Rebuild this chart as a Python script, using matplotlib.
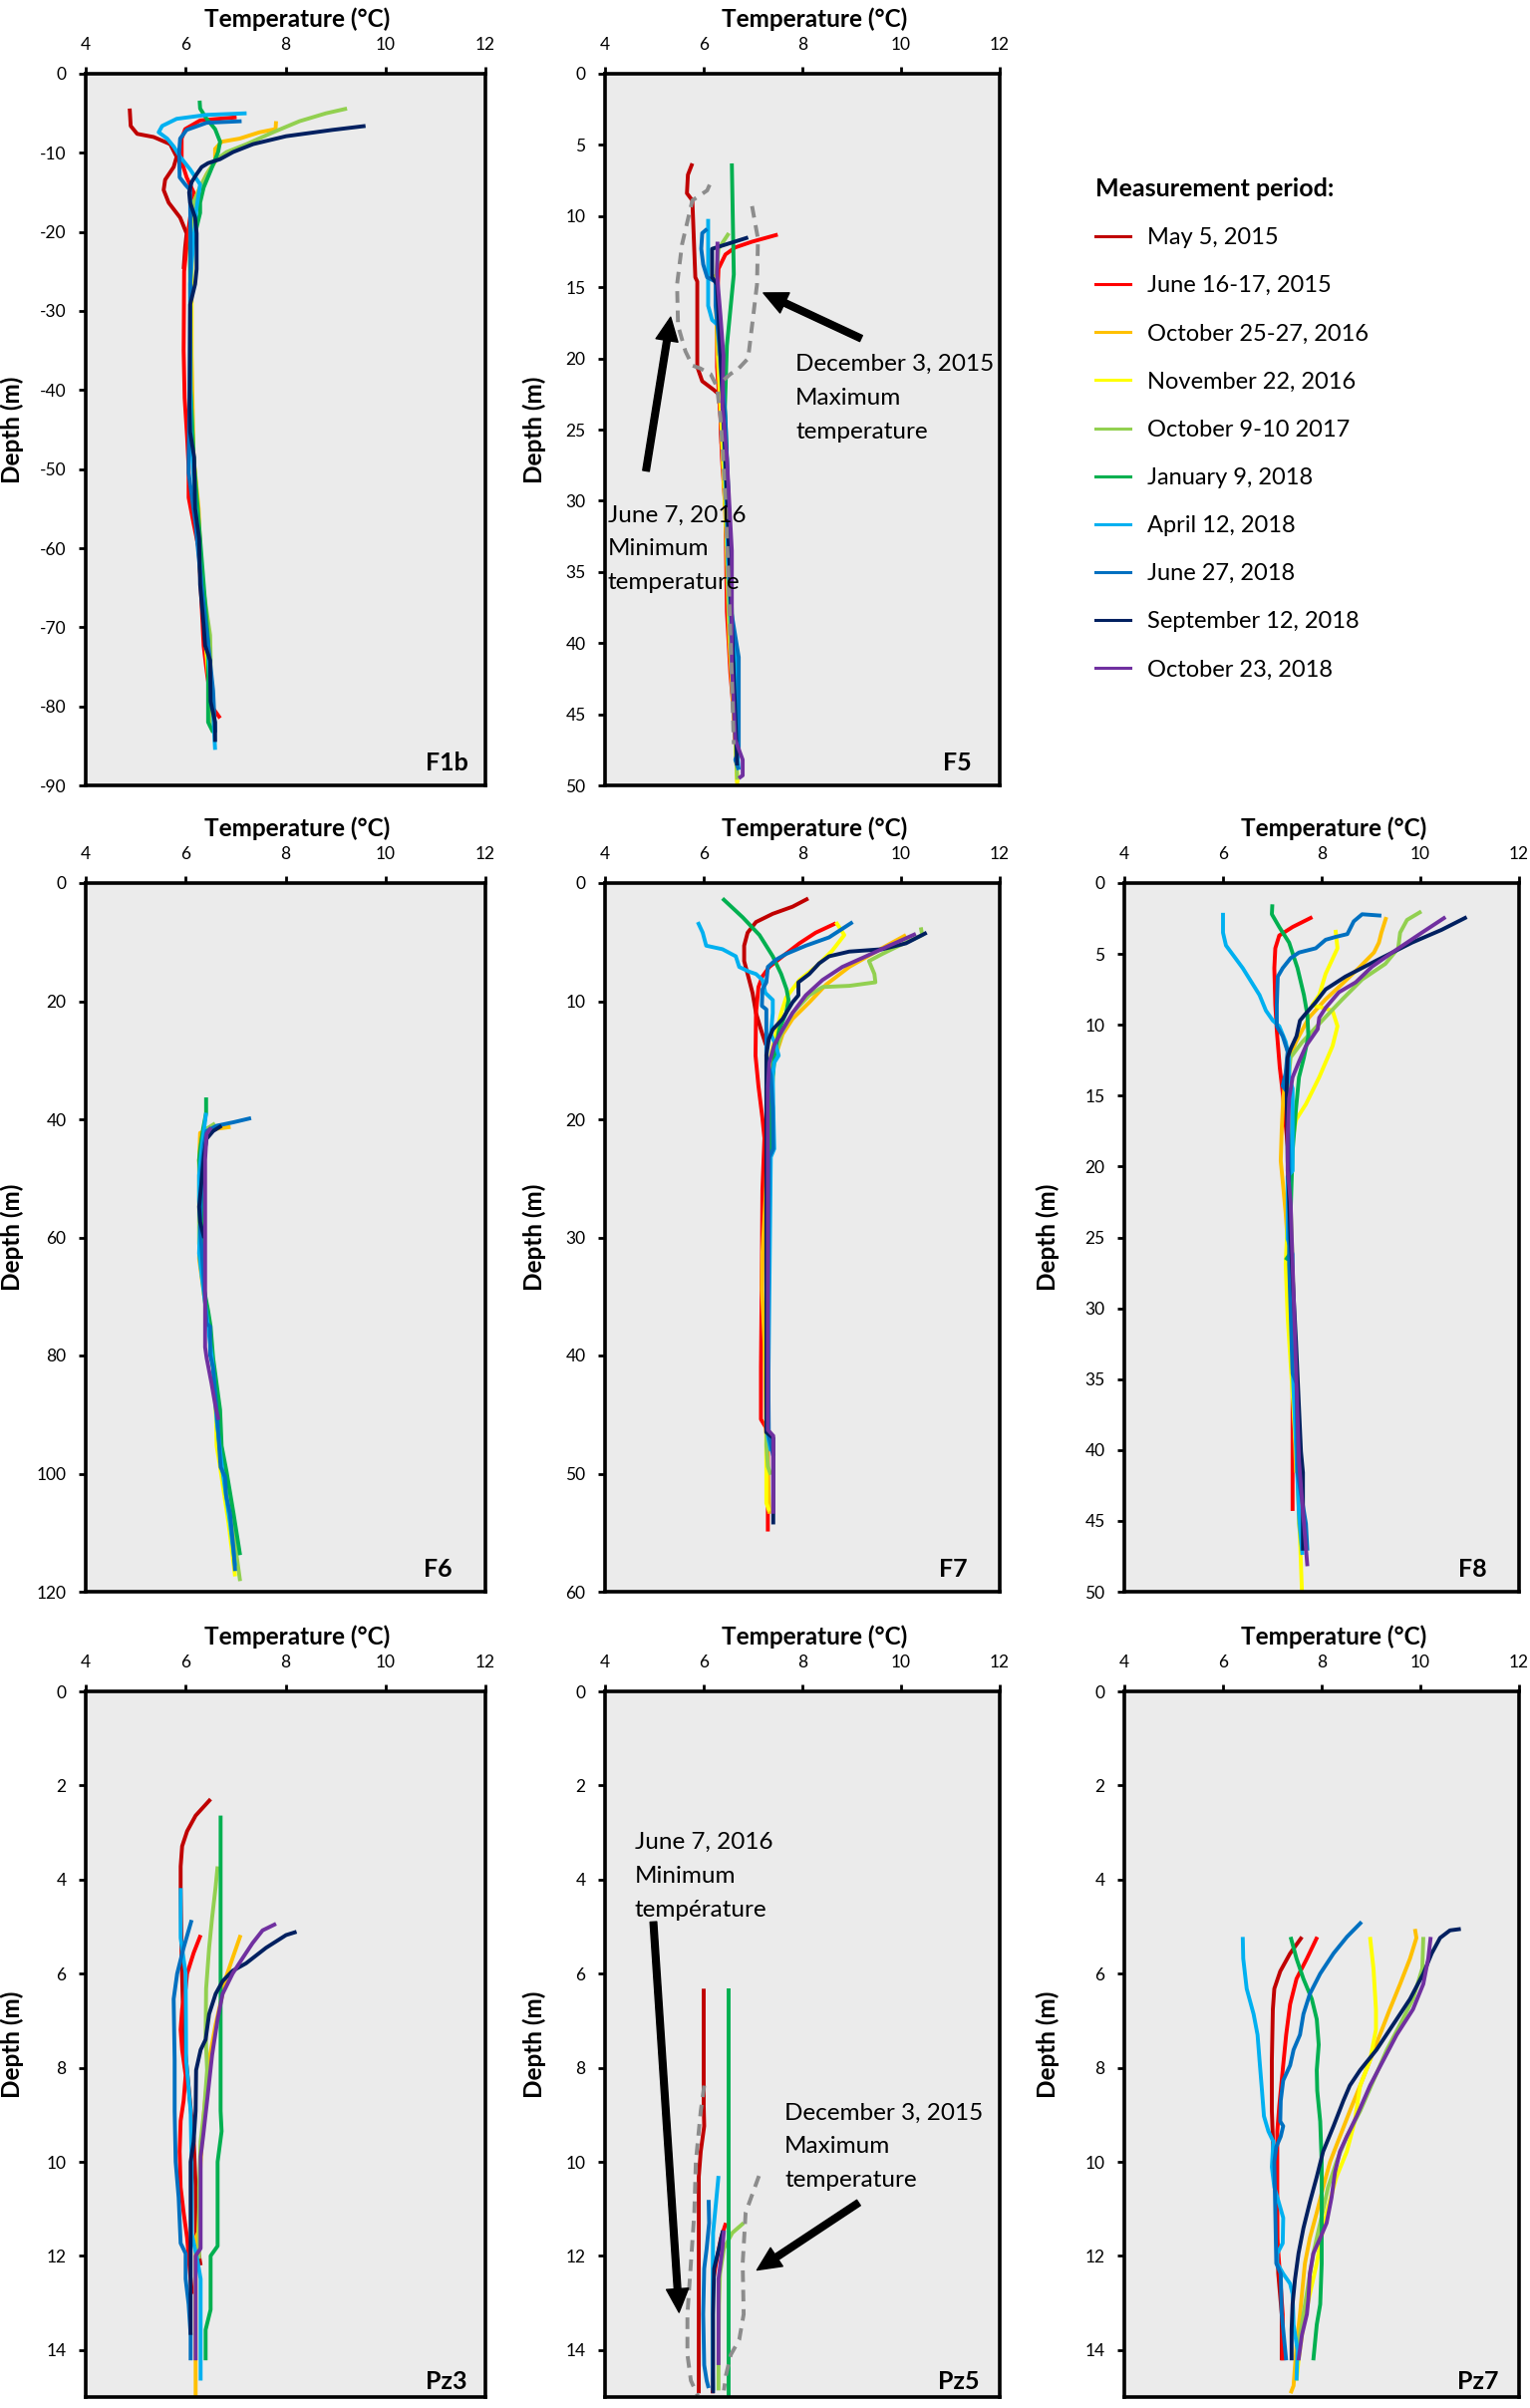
import matplotlib
matplotlib.use("Agg")
import matplotlib.pyplot as plt
from matplotlib.lines import Line2D
from matplotlib.ticker import FuncFormatter

# measurement periods (legend order) and their Excel colours
periods = ["May 5, 2015", "June 16-17, 2015", "October 25-27, 2016", "November 22, 2016",
           "October 9-10 2017", "January 9, 2018", "April 12, 2018", "June 27, 2018",
           "September 12, 2018", "October 23, 2018"]
keys = ["may15", "jun15", "oct16", "nov16", "oct17", "jan18", "apr18", "jun18", "sep18", "oct18"]
colors = ["#C00000", "#FF0000", "#FFC000", "#FFFF00", "#92D050", "#00B050",
          "#00B0F0", "#0070C0", "#002060", "#7030A0"]

temp_ticks = [4, 6, 8, 10, 12]

# profiles: (temperature degC, depth m)
F1b = {
    "may15": [(4.88, -4.4), (4.9, -6.6), (5.03, -7.6), (5.36, -8.0), (5.69, -8.9), (5.82, -10.5),
              (5.76, -11.8), (5.59, -13.4), (5.56, -14.7), (5.66, -16.3), (5.89, -18.2),
              (6.02, -20.2), (5.99, -22.0), (5.96, -24.7)],
    "jun15": [(7.02, -5.5), (6.29, -5.9), (5.99, -7.0), (5.92, -8.2), (5.92, -11.1), (6.02, -13.1),
              (6.16, -15.0), (6.05, -20.0), (5.97, -25.0), (5.96, -35.0), (5.98, -41.0),
              (6.03, -46.0), (6.06, -49.8), (6.06, -53.6), (6.16, -56.9), (6.26, -60.0),
              (6.29, -63.3), (6.36, -72.3), (6.42, -75.5), (6.52, -80.0), (6.69, -81.5)],
    "oct16": [(7.81, -6.0), (7.8, -7.0), (7.48, -7.4), (7.08, -8.2), (6.72, -8.6), (6.59, -9.5),
              (6.59, -11.1), (6.42, -12.7), (6.26, -14.7), (6.16, -16.3), (6.12, -22.7),
              (6.12, -35.6), (6.16, -48.5), (6.26, -55.0), (6.32, -64.6), (6.42, -71.0),
              (6.49, -77.5), (6.52, -82.0)],
    "nov16": [(6.15, -16.0), (6.12, -25.0), (6.1, -40.0), (6.15, -48.0), (6.22, -53.0),
              (6.25, -58.0), (6.3, -64.0), (6.4, -72.0), (6.5, -80.0)],
    "oct17": [(9.23, -4.4), (8.81, -5.0), (8.28, -6.0), (7.75, -7.4), (7.22, -8.9), (6.82, -9.9),
              (6.62, -10.8), (6.45, -12.4), (6.29, -14.4), (6.16, -16.3), (6.09, -19.5),
              (6.09, -22.7), (6.1, -40.0), (6.2, -55.0), (6.35, -65.0), (6.49, -71.0),
              (6.5, -73.6), (6.49, -82.6)],
    "jan18": [(6.28, -3.4), (6.29, -4.4), (6.42, -5.7), (6.59, -7.0), (6.69, -8.6), (6.65, -9.9),
              (6.55, -11.5), (6.36, -14.4), (6.29, -16.3), (6.29, -17.6), (6.19, -20.2),
              (6.09, -21.4), (6.09, -24.0), (6.1, -40.0), (6.16, -48.5), (6.29, -58.8),
              (6.45, -71.7), (6.45, -82.0), (6.55, -83.3)],
    "apr18": [(7.22, -5.0), (6.42, -5.2), (5.82, -5.7), (5.53, -6.6), (5.46, -7.4), (5.63, -8.2),
              (5.76, -9.2), (5.89, -10.5), (6.09, -12.1), (6.29, -14.0), (6.22, -16.9),
              (6.19, -18.9), (6.12, -24.0), (6.09, -26.6), (6.09, -30.5), (6.1, -45.0),
              (6.2, -55.0), (6.32, -65.0), (6.45, -73.0), (6.55, -80.7), (6.59, -85.5)],
    "jun18": [(7.12, -6.0), (6.42, -6.2), (6.02, -7.1), (5.89, -8.2), (5.87, -9.9), (5.88, -13.1),
              (5.99, -14.0), (6.09, -14.7), (6.1, -25.0), (6.08, -40.0), (6.06, -48.5),
              (6.06, -50.5), (6.2, -57.0), (6.32, -65.0), (6.45, -72.0), (6.55, -78.0),
              (6.59, -83.3)],
    "sep18": [(9.6, -6.6), (8.94, -7.1), (8.01, -7.9), (7.35, -8.9), (6.95, -9.9), (6.69, -10.8),
              (6.45, -11.3), (6.32, -11.8), (6.22, -12.7), (6.12, -13.7), (6.07, -15.0),
              (6.09, -16.3), (6.19, -18.2), (6.22, -20.2), (6.22, -24.7), (6.19, -26.6),
              (6.09, -29.2), (6.08, -42.0), (6.09, -45.3), (6.17, -48.5), (6.19, -55.0),
              (6.27, -58.8), (6.29, -64.6), (6.36, -69.7), (6.39, -72.3), (6.49, -74.2),
              (6.5, -79.4), (6.59, -82.0), (6.59, -84.5)],
}

F5 = {
    "may15": [(5.77, 6.3), (5.68, 7.1), (5.66, 8.4), (5.77, 8.9), (5.78, 9.8), (5.83, 14.3),
              (5.87, 14.6), (5.87, 20.6), (5.97, 21.6), (6.2, 22.2), (6.3, 22.5), (6.34, 23.8),
              (6.36, 26.0)],
    "jun15": [(7.5, 11.3), (6.98, 11.8), (6.64, 12.2), (6.44, 12.7), (6.3, 13.7), (6.27, 16.3),
              (6.27, 20.6), (6.34, 24.2), (6.37, 27.0), (6.44, 30.6), (6.47, 37.8), (6.54, 42.1),
              (6.61, 45.0), (6.64, 47.1)],
    "oct16": [(6.24, 14.1), (6.27, 19.1), (6.36, 25.0), (6.45, 32.0), (6.52, 40.0), (6.64, 46.8),
              (6.68, 49.8)],
    "nov16": [(6.3, 19.8), (6.44, 30.6), (6.61, 43.2), (6.68, 50.0)],
    "oct17": [(6.51, 11.2), (6.3, 12.3), (6.24, 14.8), (6.3, 19.1), (6.37, 22.0), (6.47, 32.4),
              (6.51, 37.8), (6.61, 44.3), (6.68, 49.6)],
    "jan18": [(6.57, 6.3), (6.61, 14.1), (6.47, 19.1), (6.43, 23.4), (6.51, 30.6), (6.57, 37.8),
              (6.64, 45.0), (6.68, 48.2)],
    "apr18": [(6.09, 10.2), (6.09, 16.3), (6.17, 17.3), (6.3, 17.7), (6.34, 19.8), (6.4, 23.4),
              (6.47, 30.6), (6.49, 33.5), (6.57, 39.6), (6.68, 41.4), (6.68, 47.8), (6.71, 48.9)],
    "jun18": [(6.07, 10.9), (5.97, 11.2), (5.95, 12.3), (5.99, 13.4), (6.07, 14.3), (6.24, 14.6),
              (6.24, 16.3), (6.3, 18.4), (6.34, 19.8), (6.44, 24.2), (6.47, 27.0), (6.51, 30.6),
              (6.56, 37.8), (6.71, 41.0), (6.71, 47.5), (6.64, 48.2), (6.71, 48.9)],
    "sep18": [(6.9, 11.5), (6.17, 12.3), (6.17, 14.3), (6.27, 14.8), (6.34, 19.8), (6.44, 27.0),
              (6.54, 36.0), (6.64, 45.0), (6.68, 48.6)],
    "oct18": [(6.28, 11.8), (6.27, 14.1), (6.34, 17.0), (6.4, 19.8), (6.38, 23.4), (6.47, 27.0),
              (6.57, 33.5), (6.57, 41.4), (6.64, 46.8), (6.79, 48.2), (6.79, 49.3), (6.71, 49.5)],
}
# June 7, 2016 (minimum) and December 3, 2015 (maximum) profiles, dashed grey
F5_min = [(6.12, 7.8), (6.07, 8.2), (5.77, 8.9), (5.56, 12.0), (5.46, 14.8), (5.48, 17.7),
          (5.63, 19.5), (5.77, 20.5), (5.93, 20.7), (6.14, 21.1), (6.27, 22.0), (6.34, 24.2),
          (6.39, 26.7), (6.45, 30.6), (6.51, 36.0), (6.56, 41.4), (6.61, 47.1)]
F5_max = [(6.98, 9.3), (7.1, 11.6), (7.08, 14.8), (6.98, 17.7), (6.9, 20.0), (6.71, 20.7),
          (6.54, 21.1), (6.41, 21.5)]

F6 = {
    "oct16": [(6.9, 41.3), (6.62, 41.6), (6.29, 42.3), (6.27, 46.9), (6.29, 55.7), (6.27, 63.6),
              (6.32, 66.7), (6.37, 69.8)],
    "nov16": [(6.29, 63.6), (6.34, 65.4), (6.37, 69.8), (6.49, 76.8), (6.57, 83.9), (6.61, 90.9),
              (6.62, 95.3), (6.69, 98.9), (6.86, 108.5), (6.99, 117.4)],
    "oct17": [(6.59, 40.7), (6.42, 41.6), (6.32, 43.3), (6.27, 46.9), (6.27, 61.0), (6.32, 66.3),
              (6.45, 73.3), (6.62, 86.5), (6.72, 96.2), (6.89, 105.9), (7.09, 118.2)],
    "jan18": [(6.41, 36.3), (6.41, 38.9), (6.35, 41.6), (6.29, 45.1), (6.27, 46.9), (6.32, 53.9),
              (6.35, 60.1), (6.37, 68.9), (6.45, 72.4), (6.5, 75.1), (6.55, 80.4), (6.62, 84.8),
              (6.69, 89.2), (6.72, 95.3), (6.82, 99.7), (6.96, 106.8), (7.09, 113.8)],
    "apr18": [(6.41, 38.9), (6.37, 41.6), (6.32, 45.1), (6.27, 49.5), (6.27, 53.9), (6.29, 57.4),
              (6.27, 62.7), (6.37, 69.8), (6.45, 75.1), (6.55, 82.1), (6.62, 90.9), (6.74, 99.7),
              (6.89, 108.5), (6.99, 115.6)],
    "jun18": [(7.31, 39.8), (6.96, 40.5), (6.62, 41.1), (6.42, 42.0), (6.37, 44.2), (6.32, 48.6),
              (6.31, 53.0), (6.29, 58.3), (6.32, 61.9), (6.42, 74.6), (6.49, 75.1), (6.49, 79.9),
              (6.55, 82.1), (6.62, 89.2), (6.7, 98.9), (6.79, 100.6), (6.81, 103.7),
              (6.89, 106.8), (6.96, 113.0), (6.99, 116.5)],
    "sep18": [(6.72, 41.1), (6.55, 42.0), (6.42, 43.3), (6.37, 46.0), (6.32, 50.4), (6.27, 54.8),
              (6.29, 57.4), (6.37, 60.1)],
    "oct18": [(6.51, 41.4), (6.42, 42.5), (6.39, 46.9), (6.39, 64.5), (6.39, 78.6), (6.42, 80.4),
              (6.52, 84.8), (6.61, 89.2), (6.66, 90.9)],
}

F7 = {
    "may15": [(8.12, 1.3), (7.8, 2.0), (7.4, 2.6), (7.06, 3.3), (6.89, 4.2), (6.82, 5.3),
              (6.82, 6.6), (6.89, 7.7), (6.99, 9.3), (7.06, 11.0), (7.16, 12.4), (7.26, 13.7)],
    "jun15": [(8.68, 3.4), (8.27, 4.2), (7.94, 5.1), (7.6, 6.2), (7.33, 7.1), (7.19, 7.9),
              (7.11, 8.8), (7.06, 11.0), (7.05, 14.6), (7.11, 17.2), (7.19, 19.9), (7.23, 21.6),
              (7.19, 26.0), (7.18, 32.2), (7.16, 41.0), (7.16, 45.4), (7.26, 46.1), (7.3, 48.1),
              (7.3, 54.9)],
    "oct16": [(10.1, 4.4), (9.62, 5.5), (8.95, 7.1), (8.48, 8.6), (8.14, 10.1), (7.8, 11.5),
              (7.6, 12.8), (7.46, 14.6), (7.36, 16.8), (7.3, 19.9), (7.26, 26.0), (7.19, 31.3),
              (7.18, 34.4), (7.23, 38.8), (7.27, 45.4), (7.3, 49.8), (7.33, 53.4)],
    "nov16": [(8.68, 3.3), (8.85, 4.4), (8.61, 5.7), (8.27, 7.1), (7.94, 8.2), (7.67, 9.7),
              (7.57, 11.0), (7.46, 12.8), (7.36, 14.6), (7.33, 17.2), (7.3, 23.4), (7.27, 32.2),
              (7.26, 41.0), (7.27, 49.8), (7.27, 52.5), (7.33, 53.2)],
    "oct17": [(10.4, 3.75), (10.43, 4.4), (9.96, 5.3), (9.62, 6.0), (9.35, 6.6), (9.46, 7.7),
              (9.48, 8.4), (8.95, 8.7), (8.41, 8.8), (8.14, 9.5), (7.8, 11.0), (7.57, 12.8),
              (7.43, 15.0), (7.36, 19.0), (7.33, 27.8), (7.3, 41.0), (7.27, 47.6), (7.3, 49.4),
              (7.36, 50.1)],
    "jan18": [(6.38, 1.3), (6.79, 2.9), (7.13, 4.4), (7.4, 6.2), (7.57, 7.7), (7.68, 9.0),
              (7.72, 9.9), (7.67, 11.0), (7.53, 12.4), (7.43, 14.6), (7.38, 17.2), (7.36, 20.7),
              (7.34, 23.4)],
    "apr18": [(5.88, 3.3), (5.98, 4.2), (6.05, 5.3), (6.38, 5.6), (6.65, 6.2), (6.72, 7.1),
              (6.92, 7.5), (7.06, 7.7), (7.19, 8.2), (7.25, 9.3), (7.4, 9.9), (7.4, 11.0),
              (7.36, 12.8), (7.46, 13.7), (7.52, 14.6), (7.43, 15.2), (7.4, 16.3), (7.41, 19.0),
              (7.43, 22.5), (7.36, 23.2), (7.3, 46.8), (7.36, 48.1)],
    "jun18": [(9.02, 3.3), (8.54, 4.6), (8.07, 5.3), (7.67, 6.0), (7.46, 6.5), (7.3, 7.1),
              (7.27, 8.4), (7.19, 9.0), (7.18, 10.4), (7.27, 10.7), (7.27, 14.6), (7.36, 16.3),
              (7.4, 19.0), (7.41, 22.5), (7.33, 23.2), (7.3, 36.6), (7.32, 46.8), (7.41, 48.5)],
    "sep18": [(10.52, 4.2), (10.1, 5.1), (9.62, 5.6), (8.95, 5.8), (8.54, 6.2), (8.34, 6.8),
              (8.14, 7.7), (7.92, 8.4), (7.92, 9.5), (7.8, 10.1), (7.6, 11.5), (7.4, 12.4),
              (7.32, 13.2), (7.27, 14.6), (7.27, 36.6), (7.27, 46.5), (7.41, 47.0), (7.41, 54.3)],
    "oct18": [(10.3, 4.3), (9.76, 5.3), (9.29, 6.2), (8.81, 7.1), (8.41, 8.2), (8.07, 9.5),
              (7.8, 11.0), (7.6, 12.4), (7.43, 13.7), (7.33, 15.2), (7.3, 17.2), (7.3, 36.6),
              (7.3, 46.3), (7.41, 46.8), (7.41, 53.4)],
}

F8 = {
    "jun15": [(7.81, 2.4), (7.41, 3.1), (7.14, 3.7), (7.06, 4.6), (7.04, 6.0), (7.06, 8.6),
              (7.09, 10.4), (7.15, 13.0), (7.21, 14.8), (7.26, 16.7), (7.34, 19.6), (7.37, 23.3),
              (7.37, 26.9), (7.41, 34.2), (7.41, 44.3)],
    "oct16": [(9.31, 2.4), (9.21, 3.5), (9.16, 4.2), (9.06, 4.9), (8.75, 6.0), (8.42, 7.1),
              (8.08, 8.2), (7.74, 9.5), (7.48, 11.2), (7.31, 12.6), (7.22, 15.2), (7.19, 17.4),
              (7.17, 19.6), (7.22, 21.4), (7.27, 23.3), (7.34, 26.9), (7.41, 34.2), (7.48, 41.6)],
    "nov16": [(8.28, 3.3), (8.32, 4.6), (8.08, 6.4), (7.95, 7.9), (7.81, 8.6), (8.22, 9.0),
              (8.32, 10.1), (8.22, 11.5), (7.95, 13.7), (7.68, 15.6), (7.48, 16.7), (7.41, 18.1),
              (7.34, 21.4), (7.27, 26.9), (7.31, 30.6), (7.41, 36.1), (7.51, 41.6), (7.6, 50.0)],
    "oct17": [(10.02, 2.0), (9.73, 2.6), (9.59, 3.5), (9.55, 4.6), (9.29, 5.7), (8.82, 6.8),
              (8.42, 8.2), (8.01, 9.7), (7.61, 11.2), (7.37, 12.3), (7.31, 14.5), (7.34, 19.6),
              (7.41, 26.9), (7.48, 36.1), (7.54, 45.2), (7.6, 47.1)],
    "jan18": [(7.0, 1.5), (6.99, 2.2), (7.14, 3.1), (7.34, 4.2), (7.51, 6.0), (7.64, 7.9),
              (7.71, 9.3), (7.73, 10.8), (7.64, 12.3), (7.54, 13.7), (7.48, 15.9), (7.41, 18.9),
              (7.37, 23.3), (7.35, 26.2), (7.27, 26.6)],
    "apr18": [(6.0, 2.1), (6.0, 3.5), (6.06, 4.4), (6.4, 6.0), (6.74, 7.9), (6.87, 9.0),
              (7.01, 9.7), (7.14, 10.1), (7.27, 11.2), (7.34, 12.3), (7.34, 13.7), (7.41, 14.5),
              (7.41, 20.3), (7.31, 20.7), (7.31, 25.1), (7.41, 26.2), (7.41, 34.2), (7.54, 44.5),
              (7.61, 47.4)],
    "jun18": [(9.21, 2.3), (8.82, 2.2), (8.65, 2.7), (8.52, 3.6), (8.28, 3.8), (8.08, 4.0),
              (7.88, 4.6), (7.54, 4.9), (7.37, 5.3), (7.21, 6.0), (7.11, 6.6), (7.09, 8.6),
              (7.09, 10.1), (7.21, 10.8), (7.31, 11.9), (7.27, 13.4), (7.21, 14.3), (7.31, 14.8),
              (7.34, 19.6), (7.34, 26.9), (7.41, 34.6), (7.49, 35.3), (7.51, 41.6), (7.68, 45.2),
              (7.71, 47.1)],
    "sep18": [(10.94, 2.4), (10.43, 3.3), (9.83, 4.2), (9.09, 5.5), (8.48, 6.6), (8.08, 7.5),
              (7.88, 8.4), (7.68, 9.2), (7.56, 9.7), (7.49, 10.8), (7.37, 11.7), (7.31, 12.3),
              (7.29, 14.5), (7.31, 19.6), (7.37, 25.1), (7.48, 32.4), (7.58, 40.1), (7.62, 41.6),
              (7.62, 47.1)],
    "oct18": [(10.51, 2.4), (10.03, 3.5), (9.43, 4.9), (9.02, 5.9), (8.69, 7.0), (8.35, 7.7),
              (8.08, 8.8), (7.95, 9.5), (7.92, 10.3), (7.78, 11.0), (7.68, 11.5), (7.54, 12.6),
              (7.41, 13.7), (7.34, 15.2), (7.31, 17.8), (7.31, 20.3), (7.37, 22.5), (7.41, 26.9),
              (7.48, 34.2), (7.54, 40.8), (7.64, 45.2), (7.71, 48.2)],
}

Pz3 = {
    "may15": [(6.5, 2.29), (6.2, 2.64), (6.03, 2.97), (5.93, 3.29), (5.9, 3.72), (5.9, 4.16),
              (5.92, 5.67), (5.96, 7.3), (6.06, 8.4), (6.16, 9.5), (6.2, 10.5), (6.21, 11.6),
              (6.3, 12.2)],
    "jun15": [(6.3, 5.18), (6.16, 5.56), (6.03, 6.0), (6.0, 6.32), (5.93, 6.75), (5.9, 7.19),
              (5.93, 7.62), (6.0, 8.16), (5.96, 8.7), (5.9, 9.13), (5.88, 9.78), (5.9, 10.54),
              (5.96, 11.08), (6.03, 11.62), (6.08, 12.27), (6.13, 12.81)],
    "oct16": [(7.1, 5.18), (6.94, 5.67), (6.8, 6.1), (6.74, 6.43), (6.6, 7.08), (6.47, 7.84),
              (6.37, 8.92), (6.3, 10.0), (6.27, 11.08), (6.25, 11.5), (6.2, 11.62), (6.2, 12.16),
              (6.2, 13.25), (6.2, 14.98)],
    "oct17": [(6.64, 3.72), (6.6, 4.16), (6.53, 4.81), (6.47, 5.45), (6.41, 6.32), (6.4, 7.29),
              (6.43, 8.05), (6.37, 8.92), (6.3, 9.57), (6.27, 10.54), (6.27, 12.06)],
    "jan18": [(6.7, 2.64), (6.7, 8.92), (6.72, 9.35), (6.64, 10.0), (6.64, 11.79), (6.5, 12.0),
              (6.5, 13.14), (6.4, 13.57), (6.4, 14.22)],
    "apr18": [(5.9, 4.18), (5.9, 5.24), (6.0, 6.0), (6.01, 7.84), (6.1, 8.92), (6.12, 10.0),
              (6.12, 11.52), (6.23, 12.06), (6.3, 12.49), (6.3, 14.65)],
    "jun18": [(6.12, 4.86), (5.96, 5.45), (5.83, 6.0), (5.76, 6.54), (5.78, 7.84), (5.78, 8.92),
              (5.8, 10.0), (5.86, 10.76), (5.9, 11.73), (6.0, 11.95), (6.0, 12.49), (6.06, 13.03),
              (6.1, 13.68), (6.1, 14.22)],
    "sep18": [(8.22, 5.11), (8.01, 5.18), (7.61, 5.45), (7.21, 5.78), (6.94, 5.94), (6.74, 6.16),
              (6.6, 6.43), (6.47, 6.86), (6.4, 7.4), (6.3, 7.62), (6.21, 8.05), (6.2, 8.92),
              (6.16, 9.57), (6.1, 10.0), (6.1, 13.68)],
    "oct18": [(7.81, 4.94), (7.54, 5.08), (7.34, 5.35), (7.14, 5.67), (6.94, 6.0), (6.74, 6.43),
              (6.64, 6.97), (6.53, 7.73), (6.43, 8.7), (6.35, 9.46), (6.3, 9.89), (6.3, 11.84),
              (6.2, 12.0), (6.2, 14.22)],
}

Pz5 = {
    "may15": [(6.0, 6.32), (6.0, 8.81), (6.01, 9.24), (5.94, 9.78), (5.9, 10.32), (5.9, 14.92)],
    "jun15": [(6.45, 11.3), (6.35, 11.62), (6.25, 12.16), (6.18, 12.59), (6.18, 14.92)],
    "oct17": [(6.81, 11.3), (6.58, 11.51), (6.41, 11.84), (6.33, 12.38), (6.31, 13.03),
              (6.3, 14.32), (6.3, 14.86)],
    "jan18": [(6.5, 6.32), (6.5, 15.0)],
    "apr18": [(6.3, 10.3), (6.25, 10.86), (6.19, 11.51), (6.18, 12.7), (6.18, 14.32), (6.19, 14.86)],
    "jun18": [(6.1, 10.81), (6.11, 11.3), (6.06, 11.84), (6.01, 12.27), (5.99, 13.24),
              (6.01, 14.32), (6.06, 14.65), (6.1, 14.81)],
    "sep18": [(6.39, 11.46), (6.31, 11.84), (6.21, 12.27), (6.19, 13.24), (6.19, 14.92)],
    "oct18": [(6.41, 11.46), (6.38, 11.84), (6.3, 12.49), (6.3, 14.32)],
}
Pz5_min = [(6.01, 8.38), (5.94, 8.92), (5.84, 10.0), (5.81, 11.08), (5.74, 12.16), (5.67, 13.24),
           (5.67, 14.1), (5.74, 14.65), (5.88, 14.97)]
Pz5_max = [(7.12, 10.3), (6.85, 11.08), (6.79, 12.16), (6.81, 13.24), (6.72, 13.78), (6.55, 14.1),
           (6.45, 14.54), (6.41, 14.86)]

Pz7 = {
    "may15": [(7.6, 5.22), (7.36, 5.57), (7.16, 5.95), (7.04, 6.32), (7.01, 6.76), (6.99, 7.84),
              (6.99, 8.92), (7.02, 9.78), (7.09, 10.65), (7.1, 11.73), (7.12, 12.38), (7.19, 13.24),
              (7.19, 14.22)],
    "jun15": [(7.91, 5.22), (7.7, 5.68), (7.49, 6.11), (7.36, 6.65), (7.28, 7.3), (7.21, 8.05),
              (7.14, 8.81), (7.1, 9.35), (7.1, 10.54), (7.1, 11.62), (7.16, 12.49), (7.21, 13.24),
              (7.21, 14.22)],
    "oct16": [(9.89, 5.05), (9.92, 5.24), (9.79, 5.68), (9.59, 6.22), (9.38, 6.76), (9.18, 7.3),
              (8.98, 7.84), (8.78, 8.38), (8.57, 8.92), (8.37, 9.46), (8.17, 10.0), (8.03, 10.54),
              (7.9, 11.08), (7.76, 11.62), (7.66, 12.16), (7.56, 13.24), (7.49, 13.89),
              (7.43, 14.76), (7.37, 14.92)],
    "nov16": [(8.98, 5.22), (9.05, 5.89), (9.1, 6.76), (9.1, 7.19), (8.98, 7.84), (8.78, 8.38),
              (8.67, 9.14), (8.51, 9.78), (8.3, 10.32), (8.1, 11.08), (7.97, 11.73), (7.9, 12.16),
              (7.76, 12.81), (7.63, 13.46), (7.53, 14.22), (7.49, 14.65)],
    "oct17": [(10.06, 5.22), (10.04, 5.89), (9.85, 6.54), (9.59, 7.08), (9.32, 7.62), (9.05, 8.27),
              (8.78, 8.92), (8.51, 9.46), (8.3, 10.0), (8.13, 10.54), (7.97, 11.3), (7.83, 11.95),
              (7.73, 12.59), (7.63, 13.24), (7.53, 13.89)],
    "jan18": [(7.37, 5.22), (7.49, 5.68), (7.63, 6.11), (7.8, 6.54), (7.9, 6.97), (7.94, 7.51),
              (7.9, 8.05), (7.91, 8.49), (7.97, 9.14), (8.0, 10.0), (8.0, 11.08), (8.0, 12.16),
              (7.97, 13.03), (7.9, 13.46), (7.83, 14.22)],
    "apr18": [(6.4, 5.22), (6.41, 5.68), (6.48, 6.32), (6.62, 6.86), (6.7, 7.3), (6.74, 7.84),
              (6.79, 8.49), (6.83, 9.03), (6.92, 9.35), (7.02, 9.57), (6.99, 10.11), (7.04, 10.54),
              (7.16, 10.97), (7.22, 11.19), (7.21, 11.73), (7.1, 11.95), (7.1, 12.16),
              (7.22, 12.38), (7.36, 12.59), (7.41, 12.81), (7.43, 13.46), (7.51, 14.0),
              (7.49, 14.65)],
    "jun18": [(8.81, 4.9), (8.51, 5.22), (8.24, 5.57), (7.97, 6.0), (7.76, 6.43), (7.63, 6.86),
              (7.56, 7.3), (7.43, 7.62), (7.36, 7.95), (7.22, 8.27), (7.17, 8.7), (7.16, 9.14),
              (7.22, 9.24), (7.17, 9.46), (7.08, 9.68), (7.04, 10.0), (7.06, 11.08), (7.08, 12.16),
              (7.17, 12.38), (7.19, 13.24), (7.28, 14.22)],
    "sep18": [(10.82, 5.05), (10.6, 5.08), (10.4, 5.24), (10.23, 5.57), (10.06, 6.0), (9.79, 6.54),
              (9.45, 7.08), (9.11, 7.62), (8.78, 8.05), (8.57, 8.38), (8.44, 8.7), (8.24, 9.24),
              (8.03, 9.78), (7.9, 10.32), (7.76, 10.86), (7.63, 11.41), (7.53, 11.95),
              (7.46, 12.49), (7.41, 13.03), (7.39, 13.57), (7.39, 14.22)],
    "oct18": [(10.21, 5.22), (10.16, 5.68), (10.06, 6.22), (9.85, 6.76), (9.52, 7.3), (9.25, 7.84),
              (8.98, 8.38), (8.71, 9.03), (8.51, 9.46), (8.37, 9.78), (8.27, 10.22), (8.2, 10.76),
              (8.1, 11.3), (7.97, 11.62), (7.83, 11.95), (7.76, 12.38), (7.73, 12.92),
              (7.7, 13.24), (7.6, 13.68), (7.53, 14.22)],
}

# name, profiles, dashed (min, max) profiles, depth range, depth ticks
panels = [
    ("F1b", F1b, None, (-90, 0), list(range(-90, 1, 10))),
    ("F5", F5, (F5_min, F5_max), (50, 0), list(range(0, 51, 5))),
    ("F6", F6, None, (120, 0), list(range(0, 121, 20))),
    ("F7", F7, None, (60, 0), list(range(0, 61, 10))),
    ("F8", F8, None, (50, 0), list(range(0, 51, 5))),
    ("Pz3", Pz3, None, (15, 0), list(range(0, 15, 2))),
    ("Pz5", Pz5, (Pz5_min, Pz5_max), (15, 0), list(range(0, 15, 2))),
    ("Pz7", Pz7, None, (15, 0), list(range(0, 15, 2))),
]

# annotation text / arrows (temperature, depth)
notes = {
    "F5": [("December 3, 2015\nMaximum\ntemperature", (7.86, 22.8), (9.19, 18.6), (7.21, 15.4)),
           ("June 7, 2016\nMinimum\ntemperature", (4.06, 33.4), (4.83, 27.9), (5.33, 17.1))],
    "Pz5": [("June 7, 2016\nMinimum\ntempérature", (4.6, 3.93), (4.98, 4.9), (5.5, 13.2)),
            ("December 3, 2015\nMaximum\ntemperature", (7.64, 9.68), (9.14, 10.87), (7.08, 12.3))],
}

# ---- layout (pixels of the 1535 x 2416 output) ----
W, H = 1535, 2416
col_left = [86, 607, 1128]
col_width = [401, 396, 396]
row_top = [74, 886, 1697]
row_height = [714, 711, 708]
cells = [(0, 0), (0, 1), (1, 0), (1, 1), (1, 2), (2, 0), (2, 1), (2, 2)]
label_x = [0.958, 0.929, 0.917, 0.919, 0.919, 0.955, 0.949, 0.947]
ylab_x = [-0.185, -0.18, -0.195]

plt.rcParams['font.family'] = ['Lato', 'DejaVu Sans']
plt.rcParams['axes.unicode_minus'] = False

fig = plt.figure(figsize=(W / 100, H / 100), dpi=100)

for i, (name, data, dashed, ylim, yticks) in enumerate(panels):
    r, c = cells[i]
    ax = fig.add_axes([col_left[c] / W, 1 - (row_top[r] + row_height[r]) / H,
                       col_width[c] / W, row_height[r] / H])
    ax.set_facecolor('#EBEBEB')
    for k, col in zip(keys, colors):
        if k in data:
            t, d = zip(*data[k])
            ax.plot(t, d, color=col, lw=2.8, solid_capstyle='butt')
    if dashed is not None:
        for prof in dashed:
            t, d = zip(*prof)
            ax.plot(t, d, color='#8C8C8C', lw=2.8, ls=(0, (3, 2)))
    for txt, (tx, ty), tail, head in notes.get(name, []):
        ax.text(tx, ty, txt, fontsize=17.5, ha='left', va='center', linespacing=1.75)
        ax.annotate('', xy=head, xytext=tail,
                    arrowprops=dict(arrowstyle='simple,head_length=0.85,head_width=0.8,tail_width=0.24',
                                    fc='black', ec='black', mutation_scale=20,
                                    shrinkA=0, shrinkB=0))

    ax.set_xlim(4, 12)
    ax.set_ylim(*ylim)
    ax.set_xticks(temp_ticks)
    ax.set_yticks(yticks)
    ax.yaxis.set_major_formatter(FuncFormatter(lambda v, p: f"{int(v)}"))
    ax.xaxis.tick_top()
    ax.xaxis.set_label_position('top')
    ax.tick_params(axis='x', direction='out', length=5, width=2, pad=10, labelsize=12.5)
    ax.tick_params(axis='y', direction='out', length=5, width=2, pad=9, labelsize=12.5)
    for s in ax.spines.values():
        s.set_linewidth(2.6)
        s.set_color('black')

    ax.set_xlabel('Temperature (°C)', fontsize=17.5, fontweight='bold')
    ax.xaxis.set_label_coords(0.53, 1.066)
    ax.set_ylabel('Depth (m)', fontweight='bold', fontsize=17.5, va='center')
    ax.yaxis.set_label_coords(ylab_x[c], 0.5)

    ly = 0.006 if name.startswith('Pz') else 0.015
    ax.text(label_x[i], ly, name, transform=ax.transAxes, ha='right', va='bottom',
            fontsize=18, fontweight='bold')

handles = [Line2D([], [], color=col, lw=2.2) for col in colors]
fig.legend(handles, periods, loc='upper left', bbox_to_anchor=(1099 / W, 1 - 178 / H),
           frameon=False, title='Measurement period:', alignment='left',
           prop={'size': 17}, title_fontproperties={'weight': 'bold', 'size': 18},
           handlelength=1.5, handletextpad=0.7, labelspacing=1.15, borderpad=0,
           borderaxespad=0)

fig.savefig('out.png', dpi=100)
